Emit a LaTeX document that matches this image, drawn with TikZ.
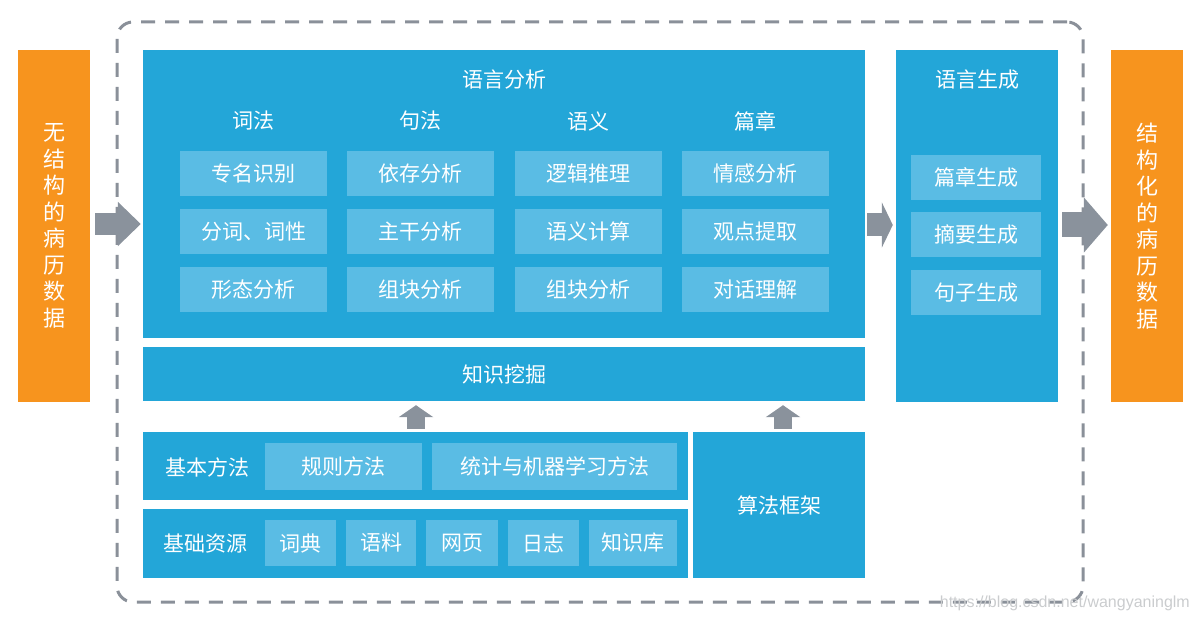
\documentclass[tikz,border=0pt]{standalone}
\usepackage{fontspec}
\setmainfont{Noto Sans CJK SC}
\newfontfamily\wmfont{Liberation Sans}
\usetikzlibrary{arrows.meta}
\definecolor{mainblue}{HTML}{23A6D8}
\definecolor{lightblue}{HTML}{5ABCE4}
\definecolor{orng}{HTML}{F7941E}
\definecolor{arrgray}{HTML}{8A929C}
\definecolor{dashgray}{HTML}{8A9099}
\definecolor{wmgray}{HTML}{CACCCE}
\begin{document}
\begin{tikzpicture}[x=1pt,y=-1pt,
  txt/.style={text=white, inner sep=0pt, font=\fontsize{21}{24}\selectfont},
  panel/.style={txt, fill=mainblue, draw=none},
  cell/.style={txt, fill=lightblue, draw=none, minimum height=45},
  acell/.style={cell, minimum width=147},
  gcell/.style={cell, minimum width=130},
  side/.style={txt, fill=orng, minimum width=72, minimum height=352, align=center,
    font=\fontsize{22}{26.5}\selectfont},
  bigarrow/.style={draw=arrgray, line width=#1},
  upar/.style={draw=arrgray, line width=18pt, -{Triangle[length=12pt,width=34pt]}},
  frame/.style={draw=dashgray, line width=3pt, dash pattern=on 14pt off 10pt,
    rounded corners=16pt, minimum width=966, minimum height=580, inner sep=0pt}
]
\useasboundingbox (0,0) rectangle (1200,620);

% dashed frame
\node[frame] (frame) at (600,312) {};

% side boxes
\node[side] (lin) at (54,226) {无\\结\\构\\的\\病\\历\\数\\据};
\node[side] (rin) at (1147,226) {结\\构\\化\\的\\病\\历\\数\\据};

% main panels
\node[panel, minimum width=722, minimum height=288] (ana) at (504,194) {};
\node[panel, minimum width=722, minimum height=54] (km) at (504,374) {知识挖掘};
\node[panel, minimum width=162, minimum height=352] (gen) at (977,226) {};
\node[panel, minimum width=545, minimum height=68] (meth) at (415.5,466) {};
\node[panel, minimum width=545, minimum height=69] (res) at (415.5,543.5) {};
\node[panel, minimum width=172, minimum height=146] (algo) at (779,505) {算法框架};

% titles
\node[txt] (anat) at (504,80) {语言分析};
\node[txt] (gent) at (977,80) {语言生成};
\node[txt] (h1) at (253.5,121) {词法};
\node[txt] (h2) at (420.5,121) {句法};
\node[txt] (h3) at (588.5,121) {语义};
\node[txt] (h4) at (755.5,121) {篇章};

% analysis cells
\node[acell] (c11) at (253.5,173.5) {专名识别};
\node[acell] (c12) at (253.5,231.5) {分词、词性};
\node[acell] (c13) at (253.5,289.5) {形态分析};
\node[acell] (c21) at (420.5,173.5) {依存分析};
\node[acell] (c22) at (420.5,231.5) {主干分析};
\node[acell] (c23) at (420.5,289.5) {组块分析};
\node[acell] (c31) at (588.5,173.5) {逻辑推理};
\node[acell] (c32) at (588.5,231.5) {语义计算};
\node[acell] (c33) at (588.5,289.5) {组块分析};
\node[acell] (c41) at (755.5,173.5) {情感分析};
\node[acell] (c42) at (755.5,231.5) {观点提取};
\node[acell] (c43) at (755.5,289.5) {对话理解};

% generation cells
\node[gcell] (g1) at (976,177.5) {篇章生成};
\node[gcell] (g2) at (976,234.5) {摘要生成};
\node[gcell] (g3) at (976,292.5) {句子生成};

% methods
\node[txt] (methl) at (207,467) {基本方法};
\node[cell, minimum width=157, minimum height=47] (m1) at (343.5,466.5) {规则方法};
\node[cell, minimum width=245, minimum height=47] (m2) at (554.5,466.5) {统计与机器学习方法};

% resources
\node[txt] (resl) at (205,544) {基础资源};
\node[cell, minimum width=71, minimum height=46] (r1) at (300.5,543) {词典};
\node[cell, minimum width=70, minimum height=46] (r2) at (381,543) {语料};
\node[cell, minimum width=72, minimum height=46] (r3) at (462,543) {网页};
\node[cell, minimum width=71, minimum height=46] (r4) at (543.5,543) {日志};
\node[cell, minimum width=88, minimum height=46] (r5) at (633,543) {知识库};

% arrows
\draw[bigarrow=22pt, -{Triangle[length=23pt,width=43pt]}]
  ([xshift=5pt,yshift=2pt]lin.east) -- ([xshift=-2pt,yshift=2pt]lin.east -| ana.west);
\draw[bigarrow=23pt, -{Triangle[length=11pt,width=45pt]}]
  ([xshift=2pt,yshift=1pt]gen.west -| ana.east) -- ([xshift=-3pt,yshift=1pt]gen.west);
\draw[bigarrow=25pt, -{Triangle[length=24pt,width=54pt]}]
  ([xshift=4pt,yshift=1pt]gen.east) -- ([xshift=-3pt,yshift=1pt]rin.west);

\coordinate (upL) at (416,0);
\coordinate (upR) at (783,0);
\draw[upar] ([yshift=3pt]meth.north -| upL) -- ([yshift=-4pt]km.south -| upL);
\draw[upar] ([yshift=3pt]algo.north -| upR) -- ([yshift=-4pt]km.south -| upR);

% watermark
\node[text=wmgray, inner sep=0pt, anchor=east, font=\wmfont\fontsize{16}{19}\selectfont]
  (wm) at (1190,603) {https://blog.csdn.net/wangyaninglm};
\end{tikzpicture}
\end{document}
